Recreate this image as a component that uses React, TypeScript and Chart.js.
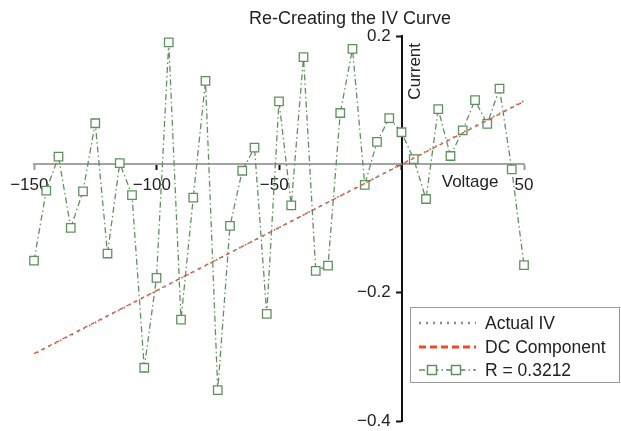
import React, { useEffect, useRef } from "react";
import { Chart, registerables } from "chart.js";

Chart.register(...registerables);

// ---- data ----
const voltage = [
  -150, -145, -140, -135, -130, -125, -120, -115, -110, -105, -100, -95, -90, -85,
  -80, -75, -70, -65, -60, -55, -50, -45, -40, -35, -30, -25, -20, -15, -10, -5,
  0, 5, 10, 15, 20, 25, 30, 35, 40, 45, 50,
];
const rCurrent = [
  -0.15, -0.041, 0.012, -0.099, -0.042, 0.064, -0.139, 0.002, -0.048, -0.317,
  -0.177, 0.19, -0.242, -0.052, 0.13, -0.352, -0.096, -0.01, 0.026, -0.233,
  0.098, -0.064, 0.167, -0.166, -0.158, 0.08, 0.18, -0.032, 0.035, 0.072,
  0.05, 0.008, -0.054, 0.086, 0.013, 0.053, 0.1, 0.063, 0.118, -0.008, -0.157,
];
const dcVoltage = [-150, 50];
const dcCurrent = [-0.295, 0.098];
const ivVoltage = [-150, 50];
const ivCurrent = [-0.296, 0.099];
const xTicks = [-150, -100, -50, 0, 50];
const yTicks = [-0.4, -0.2, 0, 0.2];
const seriesLabels = ["Actual IV", "DC Component", "R = 0.3212"];
const titleText = "Re-Creating the IV Curve";
const xTitle = "Voltage";
const yTitle = "Current";

const FONT = '"Liberation Sans", Arial, Helvetica, sans-serif';
const GREEN = "#5f915f";
const RED = "#ef4a24";
const GREY = "#8a8a8a";

const pairs = (xs: number[], ys: number[]) => xs.map((x, i) => ({ x, y: ys[i] }));

const annotatePlugin = {
  id: "annotate",
  afterDraw(chart: any) {
    const ctx = chart.ctx as CanvasRenderingContext2D;
    const xs = chart.scales.x;
    const ys = chart.scales.y;
    const x0 = xs.getPixelForValue(0);
    const y0 = ys.getPixelForValue(0);
    ctx.save();
    ctx.fillStyle = "#222";
    ctx.textAlign = "center";
    ctx.textBaseline = "middle";
    ctx.font = `18px ${FONT}`;
    ctx.fillText(titleText, 350, 19);
    ctx.font = `17px ${FONT}`;
    ctx.fillText(xTitle, xs.getPixelForValue(28), y0 + 18);
    ctx.save();
    ctx.translate(x0 + 14, ys.getPixelForValue(0.145));
    ctx.rotate(-Math.PI / 2);
    ctx.fillText(yTitle, 0, 0);
    ctx.restore();

    // legend box
    const bx = 410.5, by = 307.5, bw = 209, bh = 75;
    ctx.fillStyle = "#fff";
    ctx.fillRect(bx, by, bw, bh);
    ctx.strokeStyle = "#999";
    ctx.lineWidth = 1;
    ctx.setLineDash([]);
    ctx.strokeRect(bx, by, bw, bh);

    const rows = [323, 347, 370];
    const lx1 = 419, lx2 = 476;
    // Actual IV
    ctx.strokeStyle = GREY;
    ctx.lineWidth = 2.5;
    ctx.setLineDash([2, 5]);
    ctx.beginPath();
    ctx.moveTo(lx1, rows[0]);
    ctx.lineTo(lx2, rows[0]);
    ctx.stroke();
    // DC component
    ctx.strokeStyle = RED;
    ctx.lineWidth = 3;
    ctx.setLineDash([7, 4]);
    ctx.beginPath();
    ctx.moveTo(lx1, rows[1]);
    ctx.lineTo(lx2, rows[1]);
    ctx.stroke();
    // R
    ctx.strokeStyle = GREEN;
    ctx.lineWidth = 1.5;
    ctx.setLineDash([6, 3, 1.5, 3]);
    ctx.beginPath();
    ctx.moveTo(lx1, rows[2]);
    ctx.lineTo(lx2, rows[2]);
    ctx.stroke();
    ctx.setLineDash([]);
    for (const mx of [432, 456]) {
      ctx.fillStyle = "#fff";
      ctx.fillRect(mx - 4.5, rows[2] - 4.5, 9, 9);
      ctx.strokeRect(mx - 4.5, rows[2] - 4.5, 9, 9);
    }
    ctx.fillStyle = "#222";
    ctx.textAlign = "left";
    ctx.font = `17.5px ${FONT}`;
    seriesLabels.forEach((t, i) => ctx.fillText(t, 485, rows[i] + 1));
    ctx.restore();
  },
};

const noPad = (s: any) => {
  s.paddingTop = 0;
  s.paddingBottom = 0;
  s.paddingLeft = 0;
  s.paddingRight = 0;
};

export default function App() {
  const ref = useRef<HTMLCanvasElement | null>(null);
  useEffect(() => {
    if (!ref.current) return;
    const chart = new Chart(ref.current, {
      type: "scatter",
      data: {
        datasets: [
          {
            label: seriesLabels[0],
            data: pairs(ivVoltage, ivCurrent),
            showLine: true,
            borderColor: GREY,
            borderWidth: 2,
            borderDash: [1.5, 5],
            borderDashOffset: 3,
            pointRadius: 0,
            clip: false,
          },
          {
            label: seriesLabels[1],
            data: pairs(dcVoltage, dcCurrent),
            showLine: true,
            borderColor: RED,
            borderWidth: 1.3,
            borderDash: [4, 4],
            pointRadius: 0,
            clip: false,
          },
          {
            label: seriesLabels[2],
            data: pairs(voltage, rCurrent),
            showLine: true,
            borderColor: GREEN,
            borderWidth: 1.3,
            borderDash: [6, 3, 1.5, 3],
            pointStyle: "rect",
            pointRadius: 6,
            pointBorderWidth: 1.3,
            pointBorderColor: GREEN,
            pointBackgroundColor: "#fff",
            clip: false,
          },
        ],
      },
      options: {
        animation: false,
        responsive: false,
        events: [],
        layout: { padding: { left: 34, right: 97, top: 36, bottom: 10 } },
        plugins: {
          legend: { display: false },
          tooltip: { enabled: false },
          title: { display: false },
        },
        scales: {
          x: {
            type: "linear",
            min: -150,
            max: 50,
            position: { y: 0 } as any,
            afterBuildTicks: (s: any) => {
              s.ticks = xTicks.map((v) => ({ value: v }));
            },
            afterFit: noPad,
            grid: {
              drawOnChartArea: false,
              drawTicks: true,
              tickLength: 5,
              tickWidth: 2,
              tickColor: (c: any) =>
                c.tick && (c.tick.value === -150 || c.tick.value === 50) ? "#999" : "#111",
            },
            border: { display: true, color: "#a3a3a3", width: 2 },
            ticks: {
              color: "#222",
              padding: 6,
              maxRotation: 0,
              autoSkip: false,
              font: { family: FONT, size: 17 },
              callback: (v: any) => {
                const n = Number(v);
                if (n === 0) return "";
                return n < 0 ? "\u2212" + Math.abs(n) + "\u2007" : String(n);
              },
            },
          },
          y: {
            type: "linear",
            min: -0.4,
            max: 0.2,
            position: { x: 0 } as any,
            afterBuildTicks: (s: any) => {
              s.ticks = yTicks.map((v) => ({ value: v }));
            },
            afterFit: noPad,
            grid: {
              drawOnChartArea: false,
              drawTicks: true,
              tickLength: 5,
              tickWidth: 2,
              tickColor: "#111",
            },
            border: { display: true, color: "#111", width: 2 },
            ticks: {
              color: "#222",
              padding: 6,
              autoSkip: false,
              font: { family: FONT, size: 17 },
              callback: (v: any) => {
                const n = Number(v);
                if (Math.abs(n) < 1e-9) return "";
                const s = n < 0 ? "\u2212" + Math.abs(n).toFixed(1) : n.toFixed(1);
                return s + "\u2007\u200A";
              },
            },
          },
        },
      },
      plugins: [annotatePlugin],
    } as any);
    return () => chart.destroy();
  }, []);
  return (
    <div style={{ position: "absolute", left: 0, top: 0, width: 621, height: 431, background: "#fff" }}>
      <canvas ref={ref} width={621} height={431} style={{ display: "block" }} />
    </div>
  );
}
